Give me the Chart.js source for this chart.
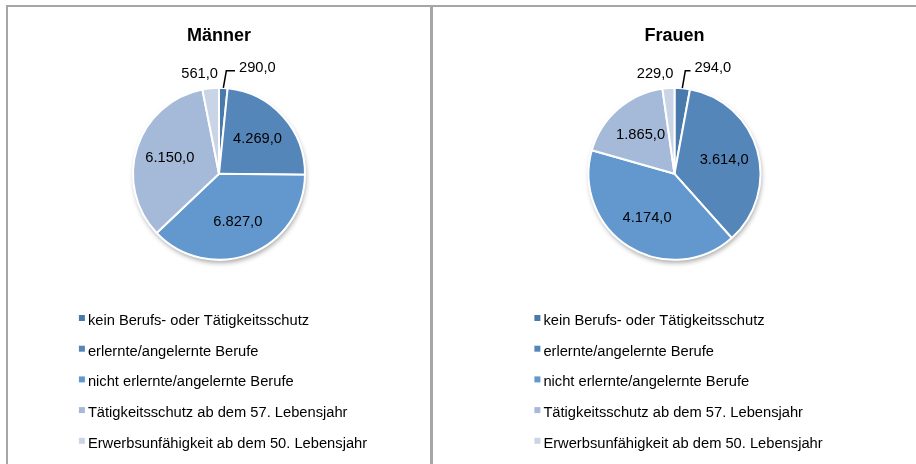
<!DOCTYPE html>
<html>
<head>
<meta charset="utf-8">
<script src="https://cdn.jsdelivr.net/npm/chart.js@4/dist/chart.umd.min.js"></script>
<style>
  body { margin: 0; background: #fff; width: 916px; height: 464px; overflow: hidden; position: relative; }
  .line { position: absolute; background: #a6a6a6; }
  .panel { position: absolute; top: 7px; height: 457px; }
</style>
</head>
<body>
<div class="line" style="left:6px; top:5px; width:910px; height:2px;"></div>
<div class="line" style="left:6px; top:5px; width:2px; height:459px;"></div>
<div class="line" style="left:430px; top:5px; width:3px; height:459px;"></div>
<div class="panel" style="left:8px; width:422px;"><canvas id="men-chart" width="422" height="457"></canvas></div>
<div class="panel" style="left:433px; width:483px;"><canvas id="women-chart" width="483" height="457"></canvas></div>
<script>
const categories = [
  'kein Berufs- oder Tätigkeitsschutz',
  'erlernte/angelernte Berufe',
  'nicht erlernte/angelernte Berufe',
  'Tätigkeitsschutz ab dem 57. Lebensjahr',
  'Erwerbsunfähigkeit ab dem 50. Lebensjahr'
]
const menValues = [290, 4269, 6827, 6150, 561]
const womenValues = [294, 3614, 4174, 1865, 229]

const sliceColors = ['#4a7aab', '#5586ba', '#6298cd', '#a5b9d9', '#c9d5e7']
const fontFamily = 'Arial, "Liberation Sans", sans-serif'

// German number format, e.g. 4.269,0
function formatValue(v) {
  const parts = v.toFixed(1).split('.')
  const intPart = parts[0].replace(/\B(?=(\d{3})+(?!\d))/g, '.')
  return intPart + ',' + parts[1]
}

// soft shadow under the pie
const shadowPlugin = {
  id: 'pieShadow',
  beforeDatasetsDraw(chart) {
    const arc = chart.getDatasetMeta(0).data[0]
    if (!arc) return
    const ctx = chart.ctx
    ctx.save()
    ctx.shadowColor = 'rgba(0,0,0,0.35)'
    ctx.shadowBlur = 5
    ctx.shadowOffsetX = 1
    ctx.shadowOffsetY = 3
    ctx.fillStyle = '#fff'
    ctx.beginPath()
    ctx.arc(arc.x, arc.y, arc.outerRadius, 0, Math.PI * 2)
    ctx.fill()
    ctx.restore()
  }
}

// value labels inside big slices, outside (with leader) for small ones
const valueLabelPlugin = {
  id: 'valueLabels',
  afterDatasetsDraw(chart) {
    const ctx = chart.ctx
    const meta = chart.getDatasetMeta(0)
    const values = chart.data.datasets[0].data
    ctx.save()
    ctx.font = '14.7px ' + fontFamily
    ctx.fillStyle = '#000'
    ctx.strokeStyle = '#000'
    ctx.lineWidth = 1.5
    ctx.textBaseline = 'middle'
    meta.data.forEach(function (arc, i) {
      const text = formatValue(values[i])
      const span = arc.endAngle - arc.startAngle
      const mid = (arc.startAngle + arc.endAngle) / 2
      const r = arc.outerRadius
      if (span / (Math.PI * 2) > 0.05) {
        ctx.textAlign = 'center'
        ctx.fillText(text, arc.x + Math.cos(mid) * r * 0.6, arc.y + Math.sin(mid) * r * 0.6)
      } else if (Math.cos(mid) >= 0) {
        const lx = arc.x + 20
        const ly = arc.y - r - 20
        const px = arc.x + Math.cos(mid) * r
        const py = arc.y + Math.sin(mid) * r
        ctx.beginPath()
        ctx.moveTo(px, py)
        ctx.lineTo(px + 3, ly + 3)
        ctx.lineTo(lx - 4, ly + 3)
        ctx.stroke()
        ctx.textAlign = 'left'
        ctx.fillText(text, lx, ly)
      } else {
        ctx.textAlign = 'right'
        ctx.fillText(text, arc.x - 1, arc.y - r - 14)
      }
    })
    ctx.restore()
  }
}

// vertical legend below the pie
const listLegendPlugin = {
  id: 'listLegend',
  afterDraw(chart) {
    const ctx = chart.ctx
    const arc = chart.getDatasetMeta(0).data[0]
    const labels = chart.data.labels
    const colors = chart.data.datasets[0].backgroundColor
    ctx.save()
    ctx.font = '14.7px ' + fontFamily
    let maxW = 0
    labels.forEach(function (l) { maxW = Math.max(maxW, ctx.measureText(l).width) })
    const x0 = arc.x - (maxW + 9) / 2 + 4
    ctx.textBaseline = 'middle'
    ctx.textAlign = 'left'
    labels.forEach(function (l, i) {
      const y = 314 + i * 30.7
      ctx.fillStyle = colors[i]
      ctx.fillRect(x0, y - 6, 6, 6)
      ctx.fillStyle = '#000'
      ctx.fillText(l, x0 + 9, y)
    })
    ctx.restore()
  }
}

function makePie(id, title, values) {
  const ctx = document.getElementById(id)
  return new Chart(ctx, {
    type: 'pie',
    data: {
      labels: categories,
      datasets: [{
        data: values,
        backgroundColor: sliceColors,
        borderColor: '#fff',
        borderWidth: 2,
        radius: 86
      }]
    },
    options: {
      responsive: false,
      animation: false,
      layout: { padding: { top: 0, bottom: 204, left: 0, right: 0 } },
      plugins: {
        legend: { display: false },
        tooltip: { enabled: false },
        title: {
          display: true,
          text: title,
          color: '#000',
          font: { family: fontFamily, size: 18, weight: 'bold', lineHeight: 1.2 },
          padding: { top: 18, bottom: 41 }
        }
      }
    },
    plugins: [shadowPlugin, valueLabelPlugin, listLegendPlugin]
  })
}

makePie('men-chart', 'Männer', menValues)
makePie('women-chart', 'Frauen', womenValues)
</script>
</body>
</html>
